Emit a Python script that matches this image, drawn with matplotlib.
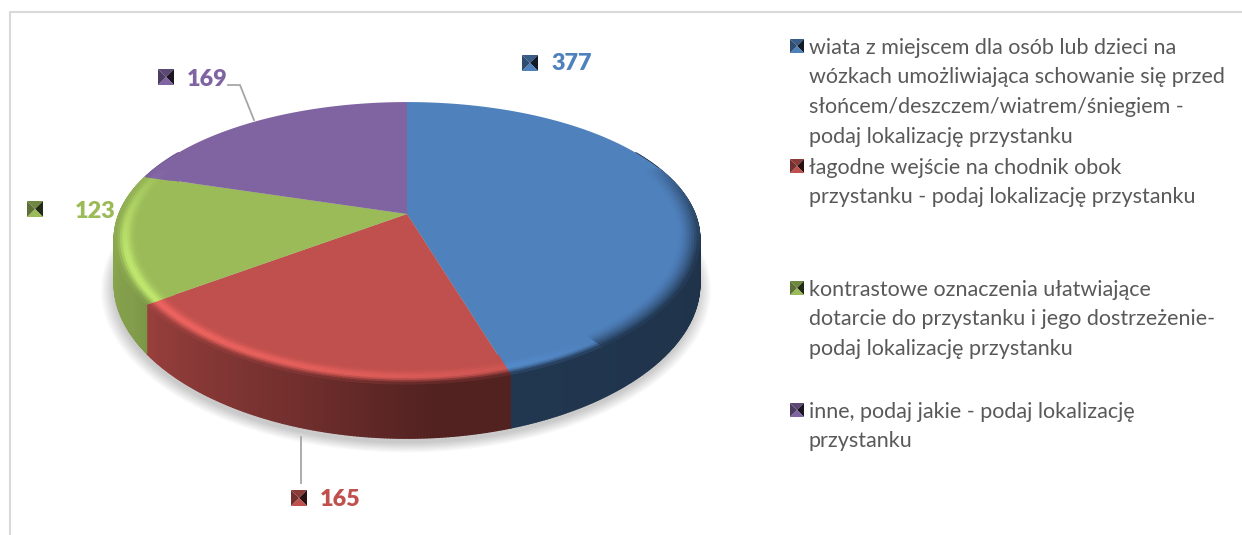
import numpy as np
import matplotlib
matplotlib.use("Agg")
import matplotlib.pyplot as plt
from matplotlib.collections import PolyCollection
from matplotlib.colors import to_rgb

values = [377, 165, 123, 169]
colors = ["#4f81bd", "#c0504d", "#9bbb59", "#8064a2"]
legend_labels = [
    "wiata z miejscem dla osób lub dzieci na\nwózkach umożliwiająca schowanie się przed\nsłońcem/deszczem/wiatrem/śniegiem -\npodaj lokalizację przystanku",
    "łagodne wejście na chodnik obok\nprzystanku - podaj lokalizację przystanku",
    "kontrastowe oznaczenia ułatwiające\ndotarcie do przystanku i jego dostrzeżenie-\npodaj lokalizację przystanku",
    "inne, podaj jakie - podaj lokalizację\nprzystanku",
]
legend_pos = [(797, 46), (797, 166), (797, 288), (797, 410)]
label_pos = [(551, 64), (320, 500), (75, 212), (187, 79)]
label_marker = [(530, 63), (299, 498), (35, 209), (166, 77)]

CX, CY, RX, KR, PX, PY, DEPTH = 407, 214, 288, 135, 0.18, 0.206, 43
FONT = "Lato"
LEG_FS = 15.5
LAB_FS = 16.8

side_ang = np.radians([60, 90, 120, 163, 175, 200, 225, 240, 262, 300])
side_f = [0.34, 0.38, 0.40, 0.42, 0.42, 0.60, 0.74, 0.84, 0.88, 0.88]


def project(theta, r=1.0, h=0.0):
    """theta clockwise from top, r relative radius, h depth below the top face."""
    c, s = np.cos(theta) * r, np.sin(theta) * r
    kx = 1 / (1 + PX * c)
    ky = 1 / (1 + PY * c)
    return CX + RX * s * kx, CY - KR * c * ky + h * ky


def shade(col, f):
    return tuple(np.clip(np.array(to_rgb(col)) * f, 0, 1))


def mix(col, other, a):
    return tuple(np.array(col) * (1 - a) + np.array(other) * a)


def pyramid(ax, x, y, size, col):
    h = size / 2
    c = (x, y)
    a, b, d, e = (x - h, y - h), (x + h, y - h), (x + h, y + h), (x - h, y + h)
    ax.fill(*zip(a, b, c), color=shade(col, 0.72), lw=0, zorder=6)
    ax.fill(*zip(b, d, c), color=shade(col, 0.22), lw=0, zorder=6)
    ax.fill(*zip(d, e, c), color=shade(col, 1.0), lw=0, zorder=6)
    ax.fill(*zip(e, a, c), color=shade(col, 0.6), lw=0, zorder=6)


fig = plt.figure(figsize=(12.42, 5.35), dpi=100)
ax = fig.add_axes([0, 0, 1, 1])
ax.set_xlim(0, 1242)
ax.set_ylim(535, 0)
ax.axis("off")

# frame
ax.plot([10, 10, 1242], [535, 12, 12], color="#d9d9d9", lw=1.5, zorder=0)

# soft shadow below the disc
t = np.linspace(0, 2 * np.pi, 240)
for i in range(9):
    x, y = project(t, 1.0 + 0.005 * i, DEPTH + 4)
    ax.fill(x - 1, y, color="black", alpha=0.022, lw=0, zorder=1)

ends = np.cumsum(values) / np.sum(values) * 2 * np.pi
starts = np.r_[0, ends[:-1]]

# side wall
for s0, e0, col in zip(starts, ends, colors):
    ts = np.r_[np.arange(s0, e0, np.radians(0.5)), e0]
    polys, cols = [], []
    for a, b in zip(ts[:-1], ts[1:]):
        if a < np.radians(60) or a > np.radians(300):
            continue
        xa, ya = project(a)
        xb, yb = project(b)
        xc, yc = project(b, 1, DEPTH)
        xd, yd = project(a, 1, DEPTH)
        polys.append([(xa, ya), (xb, yb), (xc, yc), (xd, yd)])
        cols.append(shade(col, np.interp((a + b) / 2, side_ang, side_f)))
    if polys:
        ax.add_collection(PolyCollection(polys, facecolors=cols, edgecolors=cols,
                                         linewidths=1.0, zorder=2))

# top face
for s0, e0, col in zip(starts, ends, colors):
    ts = np.linspace(s0, e0, 200)
    x, y = project(ts)
    ax.fill(np.r_[CX, x], np.r_[CY, y], color=col, lw=0, zorder=3)

# rounded rim, only on the front part of the disc
rings = np.linspace(0.90, 1.0, 13)
for s0, e0, col in zip(starts, ends, colors):
    ts = np.r_[np.arange(s0, e0, np.radians(0.7)), e0]
    polys, cols = [], []
    base = to_rgb(col)
    bright = shade(col, 1.3)
    for a, b in zip(ts[:-1], ts[1:]):
        m = (a + b) / 2
        front = np.clip(-np.cos(m) * 1.5 + 0.55, 0.0, 1.0)
        if front <= 0:
            continue
        light = np.cos(m - np.radians(235))
        side_c = shade(col, np.interp(m, side_ang, side_f))
        for r0, r1 in zip(rings[:-1], rings[1:]):
            rm = (r0 + r1) / 2
            bump = np.exp(-((rm - 0.965) / 0.02) ** 2)
            c = mix(base, bright, 0.8 * light * bump * np.sqrt(front)) if light > 0 else base
            if light > 0:
                edge = np.clip((rm - 0.975) / 0.025, 0, 1)
            else:
                edge = np.clip((rm - 0.93) / 0.07, 0, 1) ** 1.5
            c = mix(c, side_c, edge * np.sqrt(front))
            xa, ya = project(a, r0)
            xb, yb = project(b, r0)
            xc, yc = project(b, r1)
            xd, yd = project(a, r1)
            polys.append([(xa, ya), (xb, yb), (xc, yc), (xd, yd)])
            cols.append(c)
    if polys:
        ax.add_collection(PolyCollection(polys, facecolors=cols, edgecolors=cols,
                                         linewidths=0.8, zorder=4))

# leader lines
ax.plot([228, 240, 254], [85, 85, 120], color="#a6a6a6", lw=1.3, zorder=5)
ax.plot([301, 301], [437, 483], color="#a6a6a6", lw=1.3, zorder=5)

# data labels
for v, col, (lx, ly), (mx, my) in zip(values, colors, label_pos, label_marker):
    ax.text(lx, ly, str(v), color=col, fontsize=LAB_FS, fontweight="heavy", family=FONT,
            ha="left", va="center", zorder=6)
    pyramid(ax, mx, my, 16, col)

# legend
for lab, col, (lx, ly) in zip(legend_labels, colors, legend_pos):
    pyramid(ax, lx, ly, 14, col)
    for i, line in enumerate(lab.split("\n")):
        ax.text(809, ly + 1.5 + i * 29.8, line, color="#595959", fontsize=LEG_FS, family=FONT,
                ha="left", va="center", zorder=6)

fig.savefig("out.png", dpi=100, facecolor="white")
